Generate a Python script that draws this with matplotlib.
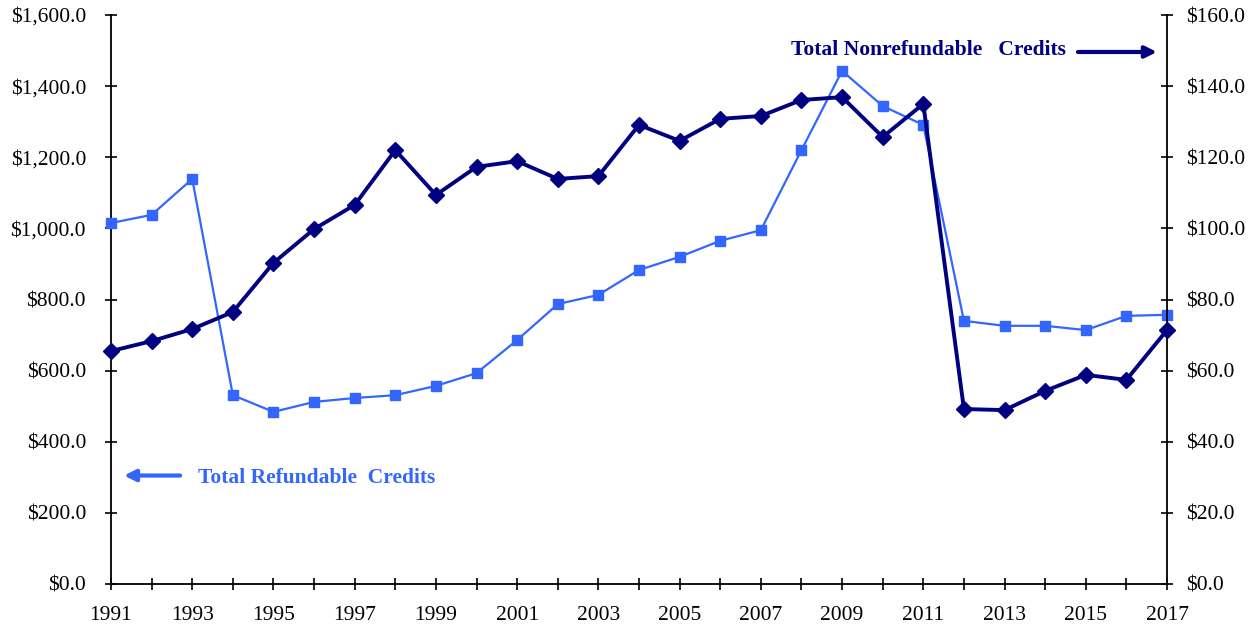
import matplotlib
matplotlib.use("Agg")
import matplotlib.pyplot as plt

years = list(range(1991, 2018))
refundable = [1015, 1038, 1139, 531, 484, 512, 523, 531, 557, 593, 686, 787, 813, 883,
              920, 965, 995, 1220, 1443, 1344, 1291, 740, 726, 726, 714, 754, 757]
nonrefundable = [65.5, 68.3, 71.7, 76.5, 90.3, 99.8, 106.6, 122.0, 109.4, 117.3, 118.9,
                 113.9, 114.7, 129.1, 124.6, 130.8, 131.6, 136.1, 136.9, 125.7, 135.0,
                 49.2, 48.9, 54.3, 58.8, 57.4, 71.4]
left_ticks = [0, 200, 400, 600, 800, 1000, 1200, 1400, 1600]
right_ticks = [0, 20, 40, 60, 80, 100, 120, 140, 160]
x_labels = [str(y) if y % 2 == 1 else "" for y in years]

plt.rcParams['font.family'] = ['Liberation Serif', 'DejaVu Serif']

LIGHT = '#3366FF'
DARK = '#000080'

fig = plt.figure(figsize=(12.6, 6.24), dpi=100)
ax = fig.add_axes([111/1260, 1 - 584/624, (1167-111)/1260, (584-15)/624])
ax2 = ax.twinx()

ax.plot(years, refundable, color=LIGHT, lw=1.6, marker='s', ms=6.5, clip_on=False, zorder=3)
ax2.plot(years, nonrefundable, color=DARK, lw=2.8, marker='D', ms=8.5, clip_on=False, zorder=3)

ax.set_xlim(1991, 2017)
ax.set_ylim(0, 1600)
ax2.set_ylim(0, 160)
ax.set_xticks(years)
ax.set_xticklabels(x_labels)
ax.set_yticks(left_ticks)
ax.set_yticklabels([f"${v:,.1f}" for v in left_ticks])
ax2.set_yticks(right_ticks)
ax2.set_yticklabels([f"${v:,.1f}" for v in right_ticks])

for a in (ax, ax2):
    a.spines['top'].set_visible(False)
    a.tick_params(direction='inout', length=9, width=1.2, labelsize=15.5, colors='black')
    for s in a.spines.values():
        s.set_linewidth(1.3)
ax.tick_params(axis='x', pad=11.5)
ax.tick_params(axis='y', pad=13.5)
ax2.tick_params(axis='y', pad=9)
ax.spines['right'].set_visible(False)
ax2.spines['left'].set_visible(False)
ax2.spines['bottom'].set_visible(False)

# annotations
ax.annotate('', xy=(1991.25, 305), xytext=(1992.77, 305),
            arrowprops=dict(arrowstyle='-|>', color=LIGHT, lw=3, mutation_scale=17))
ax.text(1993.14, 298, 'Total Refundable  Credits', color=LIGHT, fontsize=15.5,
        fontweight='bold', va='center', ha='left')
ax2.annotate('', xy=(2016.82, 149.6), xytext=(2014.74, 149.6),
             arrowprops=dict(arrowstyle='-|>', color=DARK, lw=3, mutation_scale=17))
ax2.text(2014.51, 150.2, 'Total Nonrefundable   Credits', color=DARK, fontsize=15.5,
         fontweight='bold', va='center', ha='right')

fig.savefig('out.png', dpi=100)
